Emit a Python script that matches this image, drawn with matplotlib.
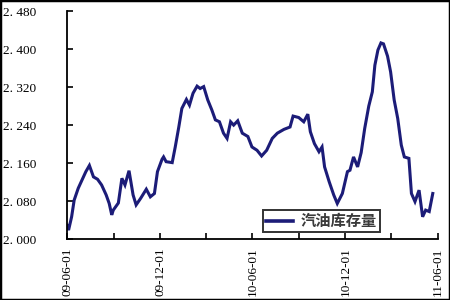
import matplotlib
matplotlib.use("Agg")
import matplotlib.pyplot as plt
import numpy as np
import pandas as pd
from matplotlib.patches import Rectangle

plt.rcParams['font.family'] = ['Noto Sans CJK SC', 'DejaVu Sans']

start_date = "2009-06-01"
day_offsets = [0, 3, 9, 14, 22, 31, 37, 44, 52, 60, 68, 77, 83, 88, 91, 101, 108, 114,
               122, 130, 136, 145, 156, 164, 172, 178, 187, 190, 195, 207, 213, 220,
               226, 235, 241, 248, 256, 262, 269, 277, 285, 292, 300, 308, 315, 322,
               328, 336, 345, 356, 364, 374, 383, 393, 404, 414, 427, 439, 445, 456,
               466, 474, 479, 487, 496, 502, 507, 516, 525, 532, 542, 552, 557, 564,
               572, 579, 586, 594, 601, 606, 612, 618, 623, 631, 637, 644, 651, 658,
               664, 673, 678, 685, 693, 700, 706, 713, 720]
stock = [2.029, 2.019, 2.047, 2.082, 2.107, 2.128, 2.142, 2.155, 2.131, 2.126, 2.114,
         2.093, 2.075, 2.051, 2.061, 2.076, 2.128, 2.114, 2.144, 2.093, 2.072, 2.086,
         2.105, 2.089, 2.096, 2.142, 2.168, 2.173, 2.163, 2.161, 2.194, 2.236, 2.275,
         2.294, 2.282, 2.307, 2.322, 2.317, 2.321, 2.293, 2.272, 2.251, 2.247, 2.223,
         2.212, 2.247, 2.240, 2.249, 2.223, 2.216, 2.194, 2.187, 2.175, 2.187, 2.212,
         2.223, 2.231, 2.236, 2.259, 2.256, 2.247, 2.263, 2.226, 2.201, 2.184, 2.194,
         2.152, 2.121, 2.093, 2.075, 2.096, 2.142, 2.145, 2.173, 2.152, 2.182, 2.233,
         2.280, 2.310, 2.366, 2.398, 2.413, 2.411, 2.385, 2.352, 2.293, 2.254, 2.198,
         2.173, 2.170, 2.096, 2.079, 2.103, 2.047, 2.061, 2.058, 2.096]
series_name = "汽油库存量"
y_ticks = [2.000, 2.080, 2.160, 2.240, 2.320, 2.400, 2.480]
y_tick_labels = ["2. 000", "2. 080", "2. 160", "2. 240", "2. 320", "2. 400", "2. 480"]
x_tick_dates = ["2009-06-01", "2009-12-01", "2010-06-01", "2010-12-01", "2011-06-01"]
x_tick_labels = ["09-06-01", "09-12-01", "10-06-01", "10-12-01", "11-06-01"]
x_minor_dates = ["2009-09-01", "2010-03-01", "2010-09-01", "2011-03-01"]

dates = pd.Timestamp(start_date) + pd.to_timedelta(day_offsets, unit="D")

fig = plt.figure(figsize=(4.5, 3.0), dpi=100)
ax = fig.add_axes([0.149, 0.203, 0.824, 0.760])

ax.plot(dates, stock, color="#1c1c78", lw=2.2, solid_joinstyle="miter")

ax.set_ylim(2.0, 2.48)
ax.set_yticks(y_ticks)
ax.set_yticklabels(y_tick_labels, family=["Liberation Serif"], fontsize=9.5, ha="left")
ax.set_xlim(pd.Timestamp(x_tick_dates[0]), pd.Timestamp(x_tick_dates[-1]))
ax.set_xticks([pd.Timestamp(d) for d in x_tick_dates])
ax.set_xticklabels(x_tick_labels, rotation=90, family=["Liberation Serif"], fontsize=9.5)
ax.set_xticks([pd.Timestamp(d) for d in x_minor_dates], minor=True)

for s in ["top", "right"]:
    ax.spines[s].set_visible(False)
for s in ["left", "bottom"]:
    ax.spines[s].set_linewidth(1.3)
    ax.spines[s].set_color("black")

ax.tick_params(axis="y", direction="in", length=4, width=1.2, pad=46, colors="black")
ax.tick_params(axis="x", which="both", direction="in", length=4, width=1.2, pad=6, colors="black")

leg = ax.legend([series_name], loc="lower left", bbox_to_anchor=(0.528, 0.031),
                borderaxespad=0, frameon=True, fancybox=False, handlelength=1.8,
                borderpad=0.2, handletextpad=0.45,
                prop={"family": ["Noto Sans CJK SC"], "size": 11, "weight": "bold"})
leg.get_frame().set_edgecolor("black")
leg.get_frame().set_linewidth(1.4)
for t in leg.get_texts():
    t.set_color("#3a3a3a")
for h in leg.legend_handles:
    h.set_linewidth(2.6)

fig.patches.append(Rectangle((0, 0), 1, 1, transform=fig.transFigure, fill=False,
                             edgecolor="black", linewidth=2.5))

fig.savefig("out.png", dpi=100)
